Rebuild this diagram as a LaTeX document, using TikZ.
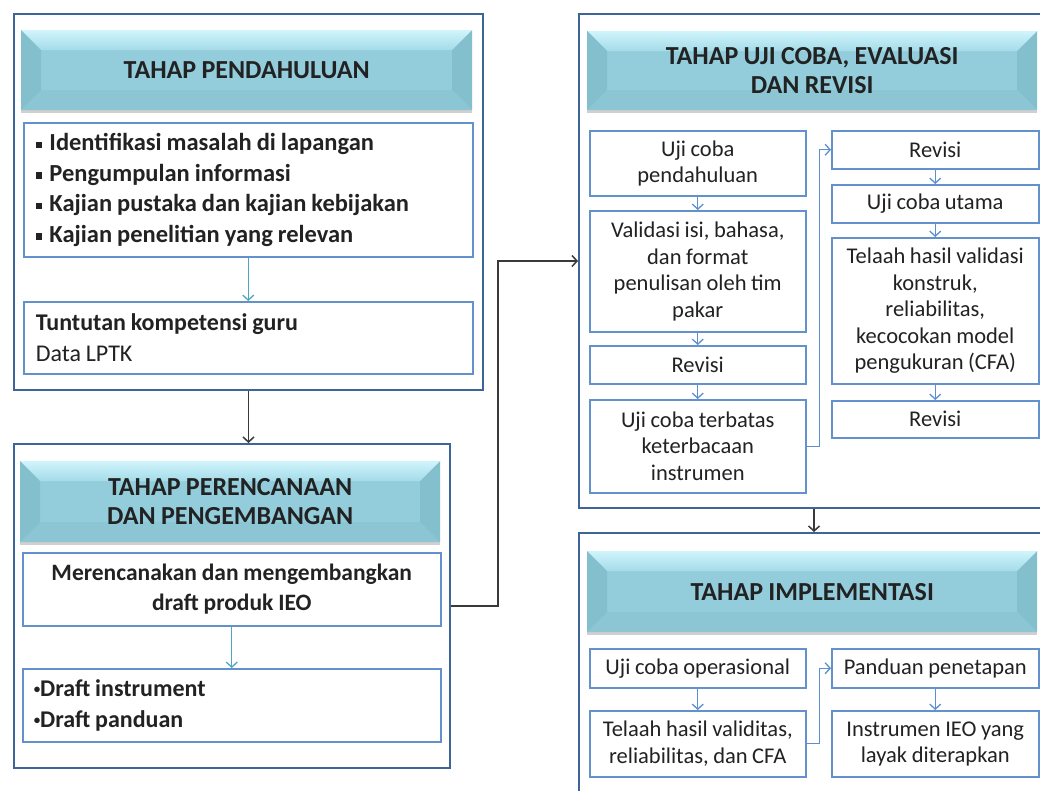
\documentclass[tikz,border=0pt]{standalone}
\usepackage{fontspec}
\setmainfont[WordSpace=0.9]{Carlito}
\usetikzlibrary{arrows.meta,calc,shadows}
\definecolor{obord}{HTML}{3F6498}
\definecolor{ibord}{HTML}{6391CC}
\definecolor{tealarr}{HTML}{4FA6C2}
\definecolor{bluearr}{HTML}{5B8FCF}
\definecolor{face}{HTML}{93CDDC}
\definecolor{hdtop}{HTML}{D0F4FC}
\definecolor{hdtopb}{HTML}{A3DBE8}
\definecolor{hdside}{HTML}{84BFCE}
\definecolor{hdbot}{HTML}{8CC6D5}
\definecolor{txt}{HTML}{222222}
\definecolor{conn}{HTML}{3A3A3A}
\newcommand\sqb{\rule[0.1em]{0.26em}{0.26em}\hspace{0.3em}}
\newcommand\smb{\raisebox{0.12em}{\fontsize{13}{13}\selectfont\textbullet}}
\begin{document}
\begin{tikzpicture}[x=1pt,y=-1pt,
  obox/.style={draw=obord, line width=2pt, fill=white, anchor=north west, inner sep=0pt},
  ibox/.style={draw=ibord, line width=1.5pt, fill=white, anchor=north west, inner sep=0pt,
    align=center, text=txt, font=\fontsize{22.5}{26.5}\selectfont},
  lbox/.style={ibox, font=\bfseries\fontsize{24}{30.5}\selectfont},
  head/.style={anchor=north west, inner sep=0pt, fill=face, align=center, text=txt,
    font=\bfseries\fontsize{26}{29.5}\selectfont,
    drop shadow={shadow xshift=0pt, shadow yshift=-3pt, opacity=0.3, fill=black!60},
    path picture={
      \path (path picture bounding box.north west) coordinate (pnw)
            (path picture bounding box.north east) coordinate (pne)
            (path picture bounding box.south west) coordinate (psw)
            (path picture bounding box.south east) coordinate (pse);
      \fill[top color=hdtop, bottom color=hdtopb] (pnw) -- (pne) -- ($(pne)+(-20,20)$) -- ($(pnw)+(20,20)$) -- cycle;
      \fill[hdside] (pnw) -- ($(pnw)+(20,20)$) -- ($(psw)+(20,-20)$) -- (psw) -- cycle;
      \fill[hdside] (pne) -- ($(pne)+(-20,20)$) -- ($(pse)+(-20,-20)$) -- (pse) -- cycle;
      \fill[hdbot] (psw) -- ($(psw)+(20,-20)$) -- ($(pse)+(-20,-20)$) -- (pse) -- cycle;
    }},
  inarr/.style={draw=tealarr, line width=1.3pt, -{Straight Barb[length=5pt,width=11pt]}},
  bluarr/.style={draw=bluearr, line width=1.3pt, -{Straight Barb[length=5pt,width=11pt]}},
  mainarr/.style={draw=conn, line width=1.5pt, -{Straight Barb[length=5pt,width=11pt]}}
]
\useasboundingbox[fill=white] (0,0) rectangle (1040,790);

% ---------- Block A: Tahap Pendahuluan ----------
\node[obox, minimum width=469pt, minimum height=376pt] (outA) at (13,13) {};
\node[head, minimum width=451pt, minimum height=80pt] (headA) at (21,30) {TAHAP PENDAHULUAN};
\node[lbox, minimum height=134pt, text width=425pt, inner xsep=12pt, align=flush left,
      font=\bfseries\fontsize{24.5}{30.5}\selectfont] (bulA) at (23,122)
  {\sqb Identifikasi masalah di lapangan\\ \sqb Pengumpulan informasi\\ \sqb Kajian pustaka dan kajian kebijakan\\ \sqb Kajian penelitian yang relevan};
\node[lbox, minimum height=72pt, text width=425pt, inner xsep=12pt, align=flush left] (tunA) at (23,301)
  {Tuntutan kompetensi guru\\ {\mdseries Data LPTK}};
\draw[inarr] (bulA.south) -- (tunA.north);

% ---------- Block B: Perencanaan ----------
\node[obox, minimum width=436pt, minimum height=324pt] (outB) at (13,443) {};
\node[head, minimum width=420pt, minimum height=81pt] (headB) at (20,461) {TAHAP PERENCANAAN\\DAN PENGEMBANGAN};
\node[lbox, minimum width=418pt, minimum height=73pt, font=\bfseries\fontsize{23.5}{30.5}\selectfont] (merB) at (22,552)
  {Merencanakan dan mengembangkan\\draft produk IEO};
\node[lbox, minimum height=73pt, text width=396pt, inner xsep=11pt, align=flush left] (draftB) at (22,668)
  {\smb Draft instrument\\ \smb Draft panduan};
\draw[inarr] (merB.south) -- (draftB.north);

% ---------- Block C: Uji coba ----------
\node[obox, minimum width=470pt, minimum height=494pt] (outC) at (578,13) {};
\node[head, minimum width=450pt, minimum height=79pt] (headC) at (587,31) {TAHAP UJI COBA, EVALUASI\\DAN REVISI};
\node[ibox, minimum width=216pt, minimum height=65pt] (c1) at (589,130) {Uji coba\\pendahuluan};
\node[ibox, minimum width=216pt, minimum height=121pt] (c2) at (589,210) {Validasi isi, bahasa,\\dan format\\penulisan oleh tim\\pakar};
\node[ibox, minimum width=216pt, minimum height=38pt] (c3) at (589,345) {Revisi};
\node[ibox, minimum width=216pt, minimum height=93pt] (c4) at (589,399) {Uji coba terbatas\\keterbacaan\\instrumen};
\node[ibox, minimum width=207pt, minimum height=38pt] (d1) at (831,130) {Revisi};
\node[ibox, minimum width=207pt, minimum height=38pt] (d2) at (831,184) {Uji coba utama};
\node[ibox, minimum width=207pt, minimum height=146pt] (d3) at (831,237) {Telaah hasil validasi\\konstruk,\\reliabilitas,\\kecocokan model\\pengukuran (CFA)};
\node[ibox, minimum width=207pt, minimum height=37pt] (d4) at (831,400) {Revisi};
\draw[bluarr] (c1.south) -- (c2.north);
\draw[bluarr] (c2.south) -- (c3.north);
\draw[bluarr] (c3.south) -- (c4.north);
\draw[bluarr] (d1.south) -- (d2.north);
\draw[bluarr] (d2.south) -- (d3.north);
\draw[bluarr] (d3.south) -- (d4.north);
\draw[bluarr] (c4.east) -- ++(13,0) |- (d1.west);

% ---------- Block D: Implementasi ----------
\node[obox, minimum width=470pt, minimum height=270pt] (outD) at (578,532) {};
\node[head, minimum width=450pt, minimum height=81pt] (headD) at (587,551) {TAHAP IMPLEMENTASI};
\node[ibox, minimum width=216pt, minimum height=39pt] (e1) at (589,648) {Uji coba operasional};
\node[ibox, minimum width=216pt, minimum height=66pt] (e2) at (589,710) {Telaah hasil validitas,\\reliabilitas, dan CFA};
\node[ibox, minimum width=207pt, minimum height=39pt] (f1) at (831,648) {Panduan penetapan};
\node[ibox, minimum width=207pt, minimum height=66pt] (f2) at (831,710) {Instrumen IEO yang\\layak diterapkan};
\draw[bluarr] (e1.south) -- (e2.north);
\draw[bluarr] (f1.south) -- (f2.north);
\draw[bluarr] (e2.east) -- ++(13,0) |- (f1.west);

% ---------- Main connectors ----------
\draw[mainarr] (outA.south) -- (outA.south |- outB.north);
\draw[mainarr] (outB.east) -- ++(47,0) |- (outC.west);
\draw[mainarr] (outC.south) -- (outD.north);
\end{tikzpicture}
\end{document}
